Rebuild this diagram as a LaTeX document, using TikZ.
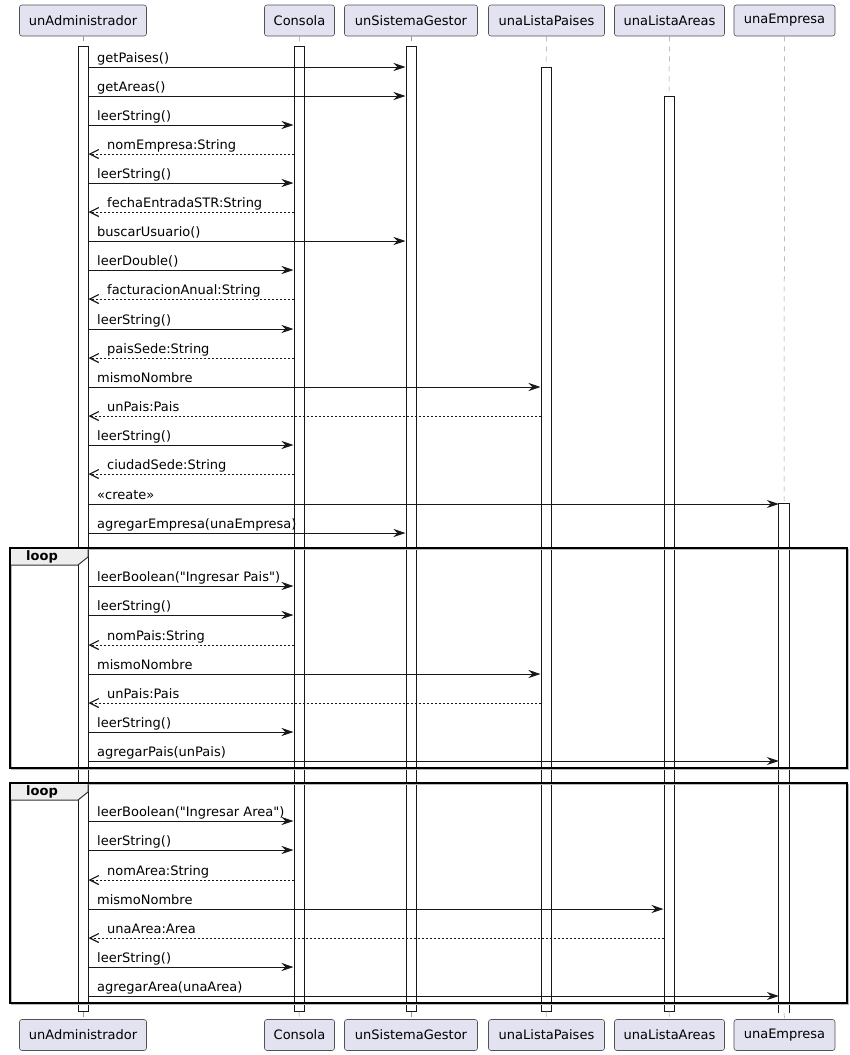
\documentclass[tikz,border=0pt]{standalone}
\usepackage{fontspec}
\setmainfont{DejaVu Sans}[Ligatures=TeXOff]
\usetikzlibrary{arrows.meta}
\definecolor{partfill}{HTML}{E2E2F0}
\definecolor{tabfill}{HTML}{EEEEEE}
\definecolor{lineclr}{HTML}{181818}
\tikzset{
  participant/.style={draw=lineclr!75, fill=partfill, line width=0.6pt, rounded corners=2.5pt, inner sep=0pt, minimum height=31pt, font=\fontsize{13}{15}\selectfont},
  lifeline/.style={draw=gray!80, line width=0.5pt, dash pattern=on 5pt off 5pt},
  actbar/.style={draw=lineclr, fill=white, line width=1pt, inner sep=0pt, minimum width=10pt},
  openbar/.style={fill=white, inner sep=0pt, minimum width=10pt},
  msgline/.style={draw=lineclr, line width=1pt, -{Stealth[length=12pt,width=8pt,inset=4pt]}},
  retline/.style={draw=lineclr, line width=1pt, dash pattern=on 2pt off 2pt, -{Straight Barb[length=9pt,width=9pt,line width=1.2pt]}},
  msglabel/.style={anchor=base west, inner sep=0pt, font=\fontsize{13}{15}\selectfont},
  loopframe/.style={draw=black, line width=1.5pt},
  loopshadow/.style={draw=gray!55, line width=1.5pt},
  looptab/.style={draw=black!80, fill=tabfill, line width=1pt},
  looplabel/.style={anchor=base west, inner sep=0pt, font=\fontsize{13}{15}\selectfont\bfseries},
}
\begin{document}
\begin{tikzpicture}[x=1pt,y=-1pt]
\useasboundingbox[fill=white] (0,0) rectangle (850,1055);

% participants (top)
\node[participant, minimum width=127pt] (pU) at (83,20.5) {unAdministrador};
\node[participant, minimum width=70pt]  (pC) at (299.5,20.5) {Consola};
\node[participant, minimum width=133pt] (pG) at (411,20.5) {unSistemaGestor};
\node[participant, minimum width=116pt] (pP) at (546.5,20.5) {unaListaPaises};
\node[participant, minimum width=110pt] (pA) at (669.5,20.5) {unaListaAreas};
\node[participant, minimum width=101pt] (pE) at (784.5,20.5) {unaEmpresa};
% participants (bottom)
\node[participant, minimum width=127pt] (qU) at (83,1035) {unAdministrador};
\node[participant, minimum width=70pt]  (qC) at (299.5,1035) {Consola};
\node[participant, minimum width=133pt] (qG) at (411,1035) {unSistemaGestor};
\node[participant, minimum width=116pt] (qP) at (546.5,1035) {unaListaPaises};
\node[participant, minimum width=110pt] (qA) at (669.5,1035) {unaListaAreas};
\node[participant, minimum width=101pt] (qE) at (784.5,1035) {unaEmpresa};

% activation bars
\node[actbar, minimum height=965pt] (barU) at (83,528.5) {};
\node[actbar, minimum height=965pt] (barC) at (299,528.5) {};
\node[actbar, minimum height=965pt] (barG) at (411,528.5) {};
\node[actbar, minimum height=944pt] (barP) at (546,539) {};
\node[actbar, minimum height=915pt] (barA) at (669,553.5) {};
\node[openbar, minimum height=509pt] (barE) at (784,758.5) {};
\draw[lineclr, line width=1pt] (barE.south west) -- (barE.north west) -- (barE.north east) -- (barE.south east);

% lifelines
\foreach \n in {U,C,G,P,A,E}{
  \draw[lifeline] (p\n.south) -- (bar\n.north);
  \draw[lifeline] (bar\n.south) -- (q\n.north);
}

% loop frames
\draw[loopshadow] (11.5,549.5) rectangle (848.5,769.5);
\draw[looptab] (10,548) -- (88,548) -- (88,557) -- (78,565) -- (10,565) -- cycle;
\draw[loopframe] (10,548) rectangle (847,768);
\node[looplabel] (loopA) at (26,560.5) {loop};
\draw[loopshadow] (11.5,784.5) rectangle (848.5,1004.5);
\draw[looptab] (10,783) -- (88,783) -- (88,792) -- (78,800) -- (10,800) -- cycle;
\draw[loopframe] (10,783) rectangle (847,1003);
\node[looplabel] (loopB) at (26,795.5) {loop};

% messages
\foreach \y/\tx/\lab/\k [count=\i] in {
  67/G/getPaises()/s,
  96/G/getAreas()/s,
  125/C/leerString()/s,
  154/C/nomEmpresa:String/r,
  183/C/leerString()/s,
  212/C/fechaEntradaSTR:String/r,
  241/G/buscarUsuario()/s,
  270/C/leerDouble()/s,
  299/C/facturacionAnual:String/r,
  329/C/leerString()/s,
  358/C/paisSede:String/r,
  387/P/mismoNombre/s,
  416/P/unPais:Pais/r,
  445/C/leerString()/s,
  474/C/ciudadSede:String/r,
  504/E/«create»/s,
  533/G/agregarEmpresa(unaEmpresa)/s,
  586/C/leerBoolean("Ingresar Pais")/s,
  615/C/leerString()/s,
  645/C/nomPais:String/r,
  674/P/mismoNombre/s,
  703/P/unPais:Pais/r,
  732/C/leerString()/s,
  761/E/agregarPais(unPais)/s,
  821/C/leerBoolean("Ingresar Area")/s,
  850/C/leerString()/s,
  880/C/nomArea:String/r,
  909/A/mismoNombre/s,
  938/A/unaArea:Area/r,
  967/C/leerString()/s,
  996/E/agregarArea(unaArea)/s}{
  \coordinate (y\i) at (0,\y);
  \if\k s
    \draw[msgline] (barU.east |- y\i) -- (bar\tx.west |- y\i);
    \node[msglabel] (l\i) at (97,\y-5) {\lab};
  \else
    \draw[retline] (bar\tx.west |- y\i) -- (barU.east |- y\i);
    \node[msglabel] (l\i) at (107,\y-5) {\lab};
  \fi
}
\end{tikzpicture}
\end{document}
